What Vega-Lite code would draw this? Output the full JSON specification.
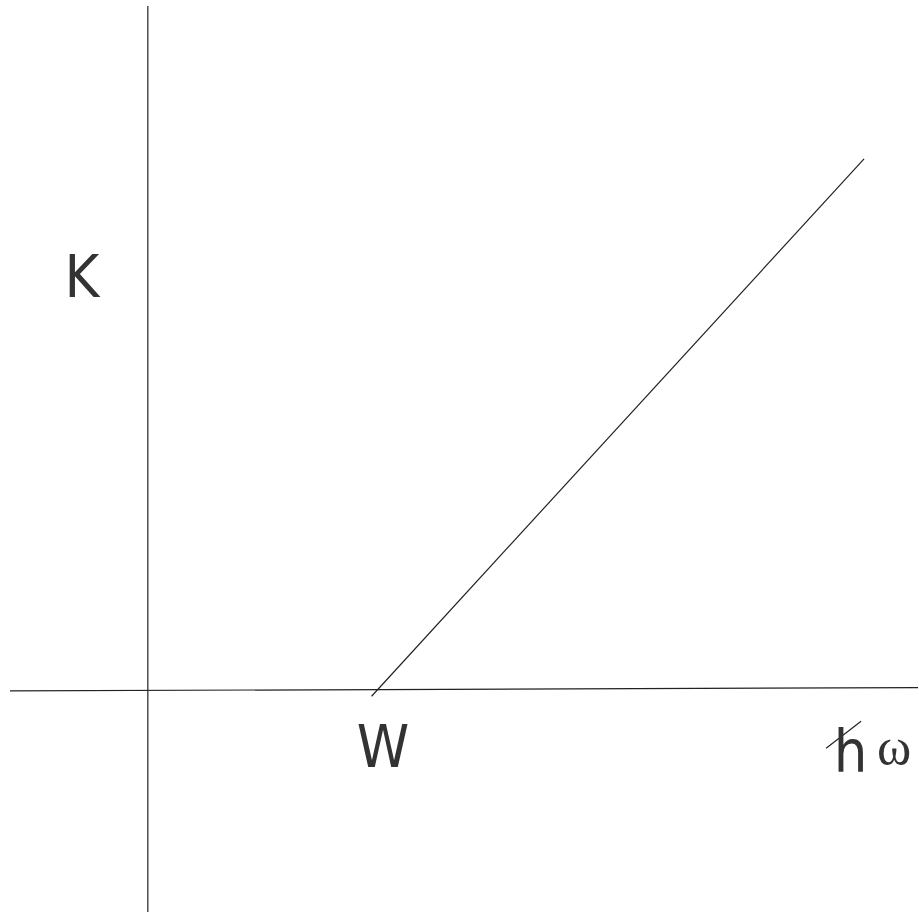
{
  "$schema": "https://vega.github.io/schema/vega-lite/v6.json",
  "width": 919,
  "height": 913,
  "autosize": {"type": "fit", "contains": "padding"},
  "padding": 0,
  "background": "white",
  "config": {"view": {"stroke": null}},
  "datasets": {
    "lines": [
      {"name": "K axis", "x": 0, "y": 685, "x2": 0, "y2": -222},
      {"name": "hw axis", "x": -138, "y": -0.7, "x2": 771, "y2": 2.7},
      {"name": "K = hw - W", "x": 224, "y": -6, "x2": 717, "y2": 532},
      {"name": "hbar stroke", "x": 679, "y": -58, "x2": 714, "y2": -31}
    ],
    "sans": [
      {"label": "K", "x": -66, "y": 394},
      {"label": "W", "x": 235.5, "y": -77},
      {"label": "h", "x": 703.5, "y": -82}
    ],
    "serif": [
      {"label": "ω", "x": 747, "y": -74}
    ]
  },
  "layer": [
    {
      "data": {"name": "lines"},
      "mark": {"type": "rule", "color": "#222222", "strokeWidth": 1.2},
      "encoding": {
        "x": {"field": "x", "type": "quantitative", "scale": {"domain": [-148, 771], "nice": false, "zero": false}, "axis": null},
        "y": {"field": "y", "type": "quantitative", "scale": {"domain": [-222, 691], "nice": false, "zero": false}, "axis": null},
        "x2": {"field": "x2"},
        "y2": {"field": "y2"}
      }
    },
    {
      "data": {"name": "sans"},
      "mark": {"type": "text", "align": "center", "baseline": "alphabetic", "font": "'Liberation Sans Narrow', 'DejaVu Sans Condensed', 'Liberation Sans', sans-serif", "fontSize": 59, "color": "#333333"},
      "encoding": {
        "x": {"field": "x", "type": "quantitative", "scale": {"domain": [-148, 771], "nice": false, "zero": false}, "axis": null},
        "y": {"field": "y", "type": "quantitative", "scale": {"domain": [-222, 691], "nice": false, "zero": false}, "axis": null},
        "text": {"field": "label"}
      }
    },
    {
      "data": {"name": "serif"},
      "mark": {"type": "text", "align": "center", "baseline": "alphabetic", "font": "'Liberation Serif', 'DejaVu Serif', serif", "fontSize": 52, "color": "#333333"},
      "encoding": {
        "x": {"field": "x", "type": "quantitative", "scale": {"domain": [-148, 771], "nice": false, "zero": false}, "axis": null},
        "y": {"field": "y", "type": "quantitative", "scale": {"domain": [-222, 691], "nice": false, "zero": false}, "axis": null},
        "text": {"field": "label"}
      }
    }
  ]
}
